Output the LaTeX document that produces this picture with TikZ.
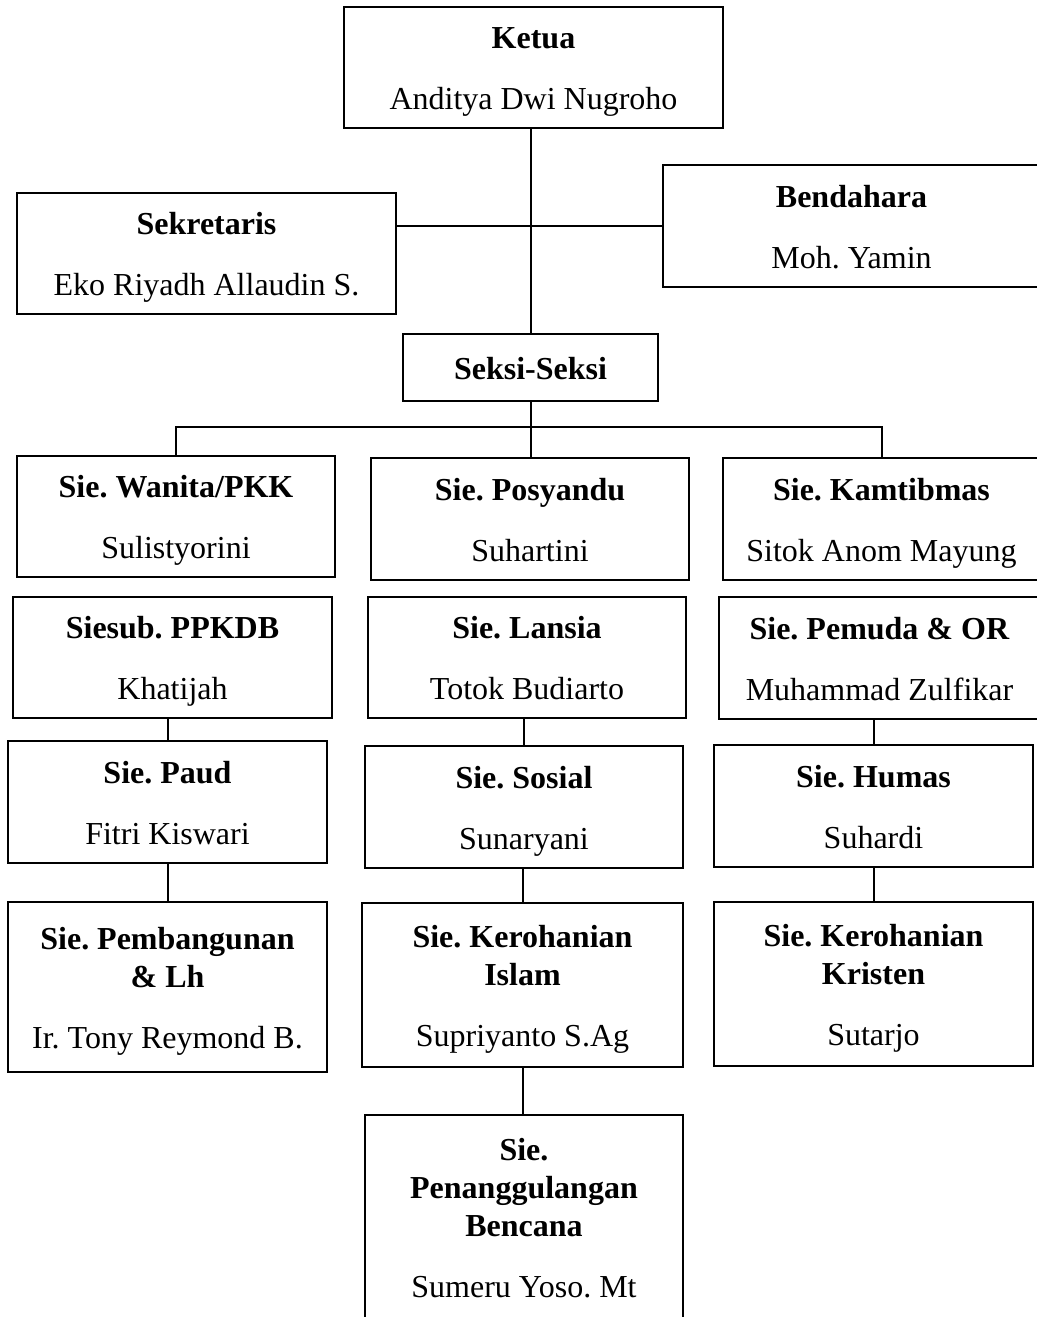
\documentclass[tikz,border=0pt]{standalone}
\usepackage{fontspec}
\setmainfont{Liberation Serif}
\frenchspacing
\newcommand{\judul}[1]{\rule{0pt}{11.5pt}\textbf{#1}}
\tikzset{
    kotak/.style={draw,line width=0.75pt,inner sep=0pt,align=center,font=\fontsize{12}{14.25}\selectfont,
        execute at end node={\rule[-2.7pt]{0pt}{2.7pt}}},
    ukuran/.style 2 args={minimum width=#1*0.375pt,minimum height=#2*0.375pt}
}

\begin{document}
\begin{tikzpicture}[x=0.375pt,y=-0.375pt]
        \useasboundingbox (0,0) rectangle (1036,1317);
        \node[kotak,ukuran={379}{121}] (ketua) at (533.5,67.5) {\judul{Ketua}\\[8.6pt]Anditya Dwi Nugroho};
        \node[kotak,ukuran={379}{121}] (sekretaris) at (206.5,253.5) {\judul{Sekretaris}\\[8.6pt]Eko Riyadh Allaudin S.};
        \node[kotak,ukuran={377}{122}] (bendahara) at (851.5,226) {\judul{Bendahara}\\[8.6pt]Moh. Yamin};
        \node[kotak,ukuran={255}{67}] (seksi) at (530.5,367.5) {\judul{Seksi-Seksi}};
        \node[kotak,ukuran={318}{121}] (wanita) at (176,516.5) {\judul{Sie. Wanita/PKK}\\[8.6pt]Sulistyorini};
        \node[kotak,ukuran={318}{122}] (posyandu) at (530,519) {\judul{Sie. Posyandu}\\[8.6pt]Suhartini};
        \node[kotak,ukuran={317}{122}] (kamtibmas) at (881.5,519) {\judul{Sie. Kamtibmas}\\[8.6pt]Sitok Anom Mayung};
        \node[kotak,ukuran={319}{121}] (ppkdb) at (172.5,657.5) {\judul{Siesub. PPKDB}\\[8.6pt]Khatijah};
        \node[kotak,ukuran={318}{121}] (lansia) at (527,657.5) {\judul{Sie. Lansia}\\[8.6pt]Totok Budiarto};
        \node[kotak,ukuran={321}{122}] (pemuda) at (879.5,658) {\judul{Sie. Pemuda \& OR}\\[8.6pt]Muhammad Zulfikar};
        \node[kotak,ukuran={319}{122}] (paud) at (167.5,802) {\judul{Sie. Paud}\\[8.6pt]Fitri Kiswari};
        \node[kotak,ukuran={318}{122}] (sosial) at (524,807) {\judul{Sie. Sosial}\\[8.6pt]Sunaryani};
        \node[kotak,ukuran={319}{122}] (humas) at (873.5,806) {\judul{Sie. Humas}\\[8.6pt]Suhardi};
        \node[kotak,ukuran={319}{170}] (pembangunan) at (167.5,987) {\judul{Sie. Pembangunan}\\\textbf{\& Lh}\\[8.6pt]Ir. Tony Reymond B.};
        \node[kotak,ukuran={321}{164}] (islam) at (522.5,985) {\judul{Sie. Kerohanian}\\\textbf{Islam}\\[8.6pt]Supriyanto S.Ag};
        \node[kotak,ukuran={319}{164}] (kristen) at (873.5,984) {\judul{Sie. Kerohanian}\\\textbf{Kristen}\\[8.6pt]Sutarjo};
        \node[kotak,ukuran={318}{205}] (bencana) at (524,1217.5) {\judul{Sie.}\\\textbf{Penanggulangan}\\\textbf{Bencana}\\[8.6pt]Sumeru Yoso. Mt};
        \coordinate (cabang) at (530.5,427);
        \draw[line width=0.75pt] (ketua.south -| seksi.north) -- (seksi.north);
        \draw[line width=0.75pt] (bendahara.west) -- (bendahara.west -| sekretaris.east);
        \draw[line width=0.75pt] (seksi.south) -- (cabang);
        \draw[line width=0.75pt] (wanita.north) |- (cabang) -| (kamtibmas.north);
        \draw[line width=0.75pt] (cabang) -- (cabang |- posyandu.north);
        \draw[line width=0.75pt] (ppkdb.south -| paud.north) -- (paud.north);
        \draw[line width=0.75pt] (paud.south) -- (pembangunan.north);
        \draw[line width=0.75pt] (lansia.south -| sosial.north) -- (sosial.north);
        \draw[line width=0.75pt] (sosial.south -| islam.north) -- (islam.north);
        \draw[line width=0.75pt] (islam.south) -- (islam.south |- bencana.north);
        \draw[line width=0.75pt] (pemuda.south -| humas.north) -- (humas.north);
        \draw[line width=0.75pt] (humas.south) -- (kristen.north);
    \end{tikzpicture}
\end{document}
